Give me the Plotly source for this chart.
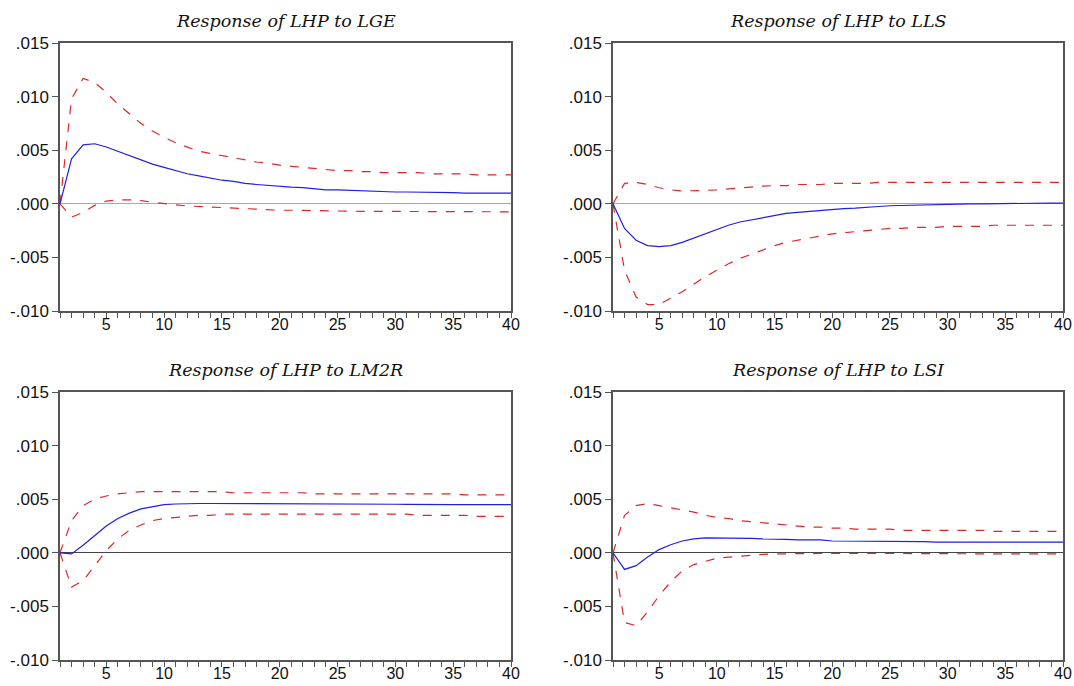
import plotly.graph_objects as go

periods = list(range(1, 41))

titles = ["Response of LHP to LGE", "Response of LHP to LLS",
          "Response of LHP to LM2R", "Response of LHP to LSI"]

y_tickvals = [0.015, 0.010, 0.005, 0.000, -0.005, -0.010]
y_ticktext = [".015", ".010", ".005", ".000", "-.005", "-.010"]

lge_resp = [0, .0042, .0055, .0056, .0053, .0049, .0045, .0041, .0037, .0034,
            .0031, .0028, .0026, .0024, .0022, .0021, .0019, .0018, .0017, .0016,
            .00155, .0015, .0014, .0013, .0013, .00125, .0012, .0012, .00115, .0011,
            .0011, .0011, .00105, .00105, .00105, .001, .001, .001, .001, .001]
lge_upper = [0, .0098, .0117, .0113, .0104, .0093, .0084, .0075, .0068, .0062,
             .0057, .0053, .0049, .0047, .0045, .0043, .0041, .0039, .0038, .0036,
             .0035, .0034, .0033, .0032, .0031, .0031, .0030, .0030, .0029, .0029,
             .0029, .0029, .0028, .0028, .0028, .0028, .0027, .0027, .0027, .0027]
lge_lower = [0, -.00124, -.0008, -.00015, .00025, .00037, .00037, .0003, .00015, 0,
             -.0001, -.0002, -.00025, -.0003, -.00037, -.0004, -.00045, -.0005, -.00055, -.0006,
             -.0006, -.00063, -.00065, -.00066, -.00068, -.00069, -.0007, -.0007, -.0007, -.0007,
             -.00072, -.00072, -.00073, -.00073, -.00074, -.00074, -.00075, -.00075, -.00075, -.00075]

lls_resp = [0, -.0023, -.0034, -.0039, -.0040, -.0039, -.0036, -.0032, -.0028, -.0024,
            -.0020, -.0017, -.0015, -.0013, -.0011, -.0009, -.0008, -.0007, -.0006, -.0005,
            -.00045, -.0004, -.0003, -.00025, -.00018, -.00015, -.0001, -.00008, -.00005, -.00003,
            -.00002, 0, 0, .00002, .00003, .00004, .00005, .00005, .00006, .00006]
lls_upper = [0, .0019, .0020, .0018, .0015, .0013, .0012, .0012, .00125, .0013,
             .0014, .0015, .0016, .00165, .0017, .0017, .0018, .0018, .0018, .0019,
             .0019, .0019, .0019, .0020, .0020, .0020, .0020, .0020, .0020, .0020,
             .0020, .0020, .0020, .0020, .0020, .0020, .0020, .0020, .0020, .0020]
lls_lower = [0, -.0062, -.0087, -.0094, -.0094, -.0088, -.0082, -.0075, -.0068, -.0062,
             -.0056, -.0051, -.0047, -.0043, -.0039, -.0036, -.0034, -.0032, -.0030, -.0028,
             -.0027, -.0026, -.0025, -.0024, -.0023, -.0023, -.0022, -.0022, -.0022, -.0021,
             -.0021, -.0021, -.0021, -.0020, -.0020, -.0020, -.0020, -.0020, -.0020, -.0020]

lm2r_resp = [0, -.0001, .0007, .0016, .0025, .0032, .0037, .0041, .0043, .0045,
             .00455, .0046, .0046, .0046, .0046, .0046, .0046, .0046, .0046, .0046,
             .0046, .0046, .0046, .0046, .0046, .00458, .00456, .00455, .00454, .00453,
             .00452, .0045, .0045, .0045, .0045, .0045, .0045, .0045, .0045, .0045]
lm2r_upper = [0, .0030, .0044, .0050, .0053, .0055, .0056, .0057, .0057, .0057,
              .0057, .0057, .0057, .0057, .0057, .0056, .0056, .0056, .0056, .0056,
              .0056, .0056, .0055, .0055, .0055, .0055, .0055, .0055, .0055, .0055,
              .0055, .0055, .0055, .0055, .0055, .0054, .0054, .0054, .0054, .0054]
lm2r_lower = [0, -.0032, -.0026, -.0012, .0002, .0013, .0021, .0026, .0030, .0032,
              .0033, .0034, .0035, .0035, .0036, .0036, .0036, .0036, .0036, .0036,
              .0036, .0036, .0036, .0036, .0036, .0036, .0036, .0036, .0036, .0036,
              .0036, .0035, .0035, .0035, .0035, .0035, .0034, .0034, .0034, .0034]

lsi_resp = [0, -.00155, -.0012, -.0004, .0003, .00075, .0011, .0013, .0014, .0014,
            .0014, .0014, .00135, .0013, .0013, .00125, .0012, .0012, .0012, .0011,
            .0011, .0011, .0011, .0011, .0011, .00105, .00105, .00105, .001, .001,
            .001, .001, .001, .001, .001, .001, .001, .001, .001, .001]
lsi_upper = [0, .0035, .0044, .0046, .0044, .0042, .0040, .0038, .0035, .0033,
             .0032, .0030, .0029, .0028, .0027, .0026, .0025, .0024, .0024, .0023,
             .0023, .0022, .0022, .0022, .0022, .0021, .0021, .0021, .0021, .0021,
             .0021, .0021, .0021, .0020, .0020, .0020, .0020, .0020, .0020, .0020]
lsi_lower = [0, -.0065, -.0068, -.0055, -.0040, -.0027, -.0017, -.0011, -.0008, -.0005,
             -.0004, -.0003, -.0002, -.00015, -.0001, -.00008, -.00006, -.00005, -.00005, -.00005,
             -.00005, -.00005, -.00006, -.00006, -.00006, -.00007, -.00007, -.00008, -.00008, -.00008,
             -.00008, -.00009, -.00009, -.0001, -.0001, -.0001, -.0001, -.0001, -.0001, -.0001]

panels = [
    (lge_resp, lge_upper, lge_lower),
    (lls_resp, lls_upper, lls_lower),
    (lm2r_resp, lm2r_upper, lm2r_lower),
    (lsi_resp, lsi_upper, lsi_lower),
]

W, H = 1074, 686
# pixel frames: (left, right, top, bottom)
frames = [(60, 511, 43, 311), (613, 1063, 43, 311),
          (60, 511, 392, 660), (613, 1063, 392, 660)]
zero_colors = ["#a8a8a8", "#a8a8a8", "#444444", "#444444"]

fig = go.Figure()
layout = dict(
    width=W, height=H, margin=dict(l=0, r=0, t=0, b=0, autoexpand=False),
    paper_bgcolor="white", plot_bgcolor="white", showlegend=False,
    font=dict(family="Liberation Sans, Arial, sans-serif", size=16, color="#111"),
)
annotations = []
for i, ((resp, up, lo), (l, r, t, b)) in enumerate(zip(panels, frames)):
    n = i + 1
    xa = "x" if n == 1 else f"x{n}"
    ya = "y" if n == 1 else f"y{n}"
    for series, color, dash in [(up, "#e0262a", "dash"), (lo, "#e0262a", "dash"),
                                (resp, "#2020e0", "solid")]:
        fig.add_trace(go.Scatter(x=periods, y=series, mode="lines", xaxis=xa, yaxis=ya,
                                 line=dict(color=color, width=1.2, dash=dash),
                                 hoverinfo="skip"))
    xkey = "xaxis" if n == 1 else f"xaxis{n}"
    ykey = "yaxis" if n == 1 else f"yaxis{n}"
    layout[xkey] = dict(
        domain=[l / W, r / W], anchor=ya, range=[1, 40], automargin=False,
        tick0=0, dtick=5, ticks="outside", ticklen=5, tickcolor="#555",
        minor=dict(dtick=1, tick0=0, ticks="outside", ticklen=5, tickcolor="#555"),
        showline=True, linecolor="#555", linewidth=1.5, mirror=True,
        showgrid=False, zeroline=False, tickfont=dict(size=16),
        ticklabelstandoff=-7,
    )
    layout[ykey] = dict(
        domain=[1 - b / H, 1 - t / H], anchor=xa, range=[-0.010, 0.015], automargin=False,
        tickvals=y_tickvals, ticktext=y_ticktext,
        ticks="outside", ticklen=6, tickcolor="#555",
        showline=True, linecolor="#555", linewidth=1.5, mirror=True,
        showgrid=False, zeroline=True, zerolinecolor=zero_colors[i], zerolinewidth=1,
        tickfont=dict(size=17),
    )
    annotations.append(dict(
        text=f"<i>{titles[i]}</i>", x=(l + r) / 2 / W, y=1 - (t - 22) / H,
        xref="paper", yref="paper", showarrow=False, xanchor="center", yanchor="middle",
        font=dict(family="DejaVu Serif, serif", size=17.5, color="#111"),
    ))
layout["annotations"] = annotations
fig.update_layout(**layout)
fig.write_html("out.html")
